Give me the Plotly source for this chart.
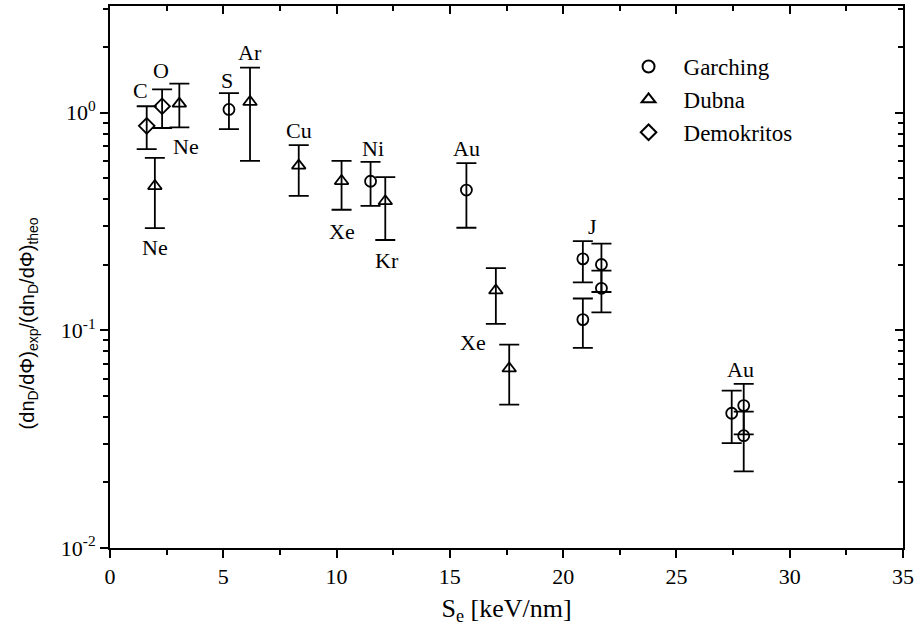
import math
import plotly.graph_objects as go

# ---- data ----
garching_x  = [5.25, 11.5, 15.73, 20.87, 20.87, 21.69, 21.69, 27.44, 27.97, 27.97]
garching_y  = [1.035, 0.484, 0.441, 0.213, 0.112, 0.2006, 0.156, 0.0416, 0.0451, 0.0328]
garching_hi = [1.23, 0.594, 0.586, 0.257, 0.140, 0.250, 0.188, 0.0528, 0.0567, 0.0423]
garching_lo = [0.84, 0.373, 0.296, 0.166, 0.083, 0.150, 0.121, 0.0303, 0.0333, 0.0225]

dubna_x  = [1.98, 3.06, 6.18, 8.33, 10.22, 12.15, 17.03, 17.62]
dubna_y  = [0.46, 1.10, 1.12, 0.571, 0.485, 0.392, 0.1525, 0.0668]
dubna_hi = [0.62, 1.36, 1.61, 0.71, 0.60, 0.506, 0.193, 0.0859]
dubna_lo = [0.295, 0.855, 0.60, 0.415, 0.358, 0.26, 0.107, 0.0456]

demok_x  = [1.62, 2.30]
demok_y  = [0.87, 1.07]
demok_hi = [1.07, 1.28]
demok_lo = [0.68, 0.85]

label_text = ["C", "O", "Ne", "Ne", "S", "Ar", "Cu", "Xe", "Ni", "Kr", "Au", "Xe", "J", "Au"]
label_x    = [1.35, 2.27, 3.35, 2.0, 5.15, 6.17, 8.32, 10.24, 11.6, 12.22, 15.75, 16.0, 21.28, 27.84]
label_y    = [1.27, 1.57, 0.70, 0.24, 1.40, 1.88, 0.83, 0.283, 0.686, 0.21, 0.687, 0.088, 0.299, 0.066]

y_tickvals = [0.01, 0.1, 1]
y_ticktext = ["10<sup>-2</sup>", "10<sup>-1</sup>", "10<sup>0</sup>"]
y_minorvals = [m * d for d in (0.01, 0.1, 1) for m in range(2, 10)]

SERIF = "Liberation Serif"
SANS = "Liberation Sans"

def eb(y, hi, lo):
    return dict(type="data", symmetric=False,
                array=[h - v for h, v in zip(hi, y)],
                arrayminus=[v - l for v, l in zip(y, lo)],
                color="black", thickness=1.8, width=10)

fig = go.Figure()
series = [
    ("Garching", garching_x, garching_y, garching_hi, garching_lo, "circle-open", 11),
    ("Dubna", dubna_x, dubna_y, dubna_hi, dubna_lo, "triangle-up-open", 12),
    ("Demokritos", demok_x, demok_y, demok_hi, demok_lo, "diamond-open", 12),
]
for name, xs, ys, hi, lo, sym, sz in series:
    fig.add_trace(go.Scatter(
        x=xs, y=ys, mode="markers", name=name,
        marker=dict(symbol=sym, size=sz, color="black", line=dict(width=1.8, color="black")),
        error_y=eb(ys, hi, lo),
    ))

# invisible trace to activate top/right mirror axes
fig.add_trace(go.Scatter(x=[None], y=[None], xaxis="x2", yaxis="y2", showlegend=False))

for t, xv, yv in zip(label_text, label_x, label_y):
    fig.add_annotation(x=xv, y=math.log10(yv), text=t, showarrow=False,
                       font=dict(family=SERIF, size=22, color="black"))

# y-axis title (placed as rotated text, offset like the reference)
fig.add_annotation(xref="paper", yref="paper", x=-0.103, y=0.415, textangle=-90,
                   xanchor="center", yanchor="middle",
                   text="(dn<sub>D</sub>/dΦ)<sub>exp</sub>/(dn<sub>D</sub>/dΦ)<sub>theo</sub>",
                   showarrow=False, font=dict(family=SANS, size=20, color="black"))

axis_common = dict(showgrid=False, zeroline=False, linecolor="black", linewidth=2,
                   tickcolor="black", tickwidth=2)

fig.update_layout(
    width=920, height=643,
    margin=dict(l=110, r=15, t=6, b=95),
    paper_bgcolor="white", plot_bgcolor="white",
    showlegend=True,
    legend=dict(x=0.635, y=0.928, xanchor="left", yanchor="top",
                font=dict(family=SERIF, size=23, color="black"),
                bgcolor="rgba(0,0,0,0)", tracegroupgap=0, itemsizing="constant",
                itemwidth=60),
    xaxis=dict(range=[0, 35], dtick=5, ticks="outside", ticklen=8,
               minor=dict(dtick=2.5, ticks="outside", ticklen=5, tickcolor="black", tickwidth=2),
               tickfont=dict(family=SERIF, size=22, color="black"),
               title=dict(text="S<sub>e</sub> [keV/nm]", font=dict(family=SERIF, size=26, color="black"),
                          standoff=10),
               **axis_common),
    yaxis=dict(type="log", range=[-2, 0.49], tickvals=y_tickvals, ticktext=y_ticktext,
               ticks="outside", ticklen=8,
               minor=dict(ticks="outside", ticklen=5, tickvals=y_minorvals, tickcolor="black", tickwidth=2),
               tickfont=dict(family=SERIF, size=22, color="black"),
               **axis_common),
    xaxis2=dict(overlaying="x", side="top", range=[0, 35], dtick=5, ticks="inside", ticklen=8,
                minor=dict(dtick=2.5, ticks="inside", ticklen=5, tickcolor="black", tickwidth=2),
                showticklabels=False, anchor="y", **axis_common),
    yaxis2=dict(overlaying="y", side="right", type="log", range=[-2, 0.49], tickvals=y_tickvals,
                ticks="inside", ticklen=8,
                minor=dict(ticks="inside", ticklen=5, tickvals=y_minorvals, tickcolor="black", tickwidth=2),
                showticklabels=False, anchor="x", **axis_common),
)

fig.write_html("out.html")
